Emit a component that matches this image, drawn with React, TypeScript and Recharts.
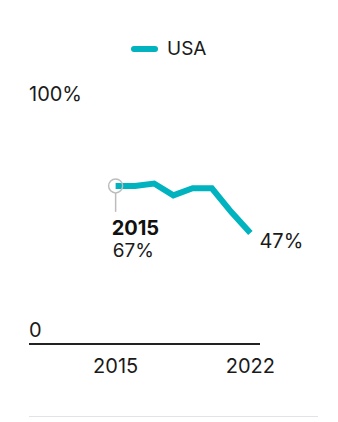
import React from "react";
import {
  LineChart,
  Line,
  XAxis,
  YAxis,
  Legend,
  LabelList,
} from "recharts";

const years = [2015, 2016, 2017, 2018, 2019, 2020, 2021, 2022];
const usa = [67, 67, 68, 63, 66, 66, 56, 47];
const xTicks = [2015, 2022];
const yTicks = [0, 100];

const data = years.map((year, i) => ({ year, usa: usa[i] }));

const TEAL = "#00b3be";
const INK = "#1a1a1a";
const FONT = "Inter, 'Open Sans', sans-serif";

const YTick = (props: any) => {
  const { y, payload } = props;
  const v = payload.value;
  return (
    <text x={29} y={y - 7} fontSize={20} fill={INK} fontFamily={FONT} textAnchor="start">
      {v === 0 ? "0" : `${v}%`}
    </text>
  );
};

const XTick = (props: any) => {
  const { x, y, payload } = props;
  return (
    <text x={x} y={y + 29} fontSize={20} fill={INK} fontFamily={FONT} textAnchor="middle">
      {payload.value}
    </text>
  );
};

const PointLabel = (props: any) => {
  const { x, y, index, value } = props;
  if (index === 0) {
    return (
      <g>
        <circle cx={x} cy={y} r={7} fill="none" stroke="#bdbdbd" strokeWidth={1.5} />
        <line x1={x} x2={x} y1={y + 7} y2={y + 26} stroke="#bdbdbd" strokeWidth={1.5} />
        <text x={x - 4} y={y + 49} fontSize={20} fontWeight={700} fill="#111" fontFamily={FONT}>
          {years[0]}
        </text>
        <text x={x - 3} y={y + 71} fontSize={19} fill={INK} fontFamily={FONT}>
          {value}%
        </text>
      </g>
    );
  }
  if (index === usa.length - 1) {
    return (
      <text x={x + 9} y={y + 15} fontSize={20} fill={INK} fontFamily={FONT}>
        {value}%
      </text>
    );
  }
  return null;
};

const LegendContent = () => (
  <div style={{ display: "flex", alignItems: "center", paddingLeft: 131, fontFamily: FONT }}>
    <svg width={27} height={8}>
      <line x1={3} x2={24} y1={4} y2={4} stroke={TEAL} strokeWidth={6} strokeLinecap="round" />
    </svg>
    <span style={{ marginLeft: 9, fontSize: 19, color: INK }}>USA</span>
  </div>
);

export default function App() {
  return (
    <div style={{ position: "absolute", top: 0, left: 0, width: 338, height: 422, background: "#fff" }}>
      <LineChart
        width={338}
        height={422}
        data={data}
        margin={{ top: 108, right: 78, left: 28, bottom: 38 }}
      >
        <Legend
          verticalAlign="middle"
          align="center"
          content={<LegendContent />}
          wrapperStyle={{ position: "absolute", top: 37, left: 0, width: 338 }}
        />
        <XAxis
          dataKey="year"
          type="number"
          domain={[2010.5, 2022.5]}
          ticks={xTicks}
          height={40}
          axisLine={{ stroke: "#222", strokeWidth: 2 }}
          tickLine={false}
          tickSize={0}
          tickMargin={0}
          tick={<XTick />}
        />
        <YAxis
          domain={[0, 100]}
          ticks={yTicks}
          width={1}
          axisLine={false}
          tickLine={false}
          tick={<YTick />}
          interval={0}
        />
        <Line
          dataKey="usa"
          stroke={TEAL}
          strokeWidth={6}
          dot={false}
          activeDot={false}
          isAnimationActive={false}
        >
          <LabelList dataKey="usa" content={<PointLabel />} />
        </Line>
      </LineChart>
      <div
        style={{
          position: "absolute",
          top: 416,
          left: 29,
          width: 289,
          height: 1,
          background: "#e2e2e8",
        }}
      />
    </div>
  );
}
